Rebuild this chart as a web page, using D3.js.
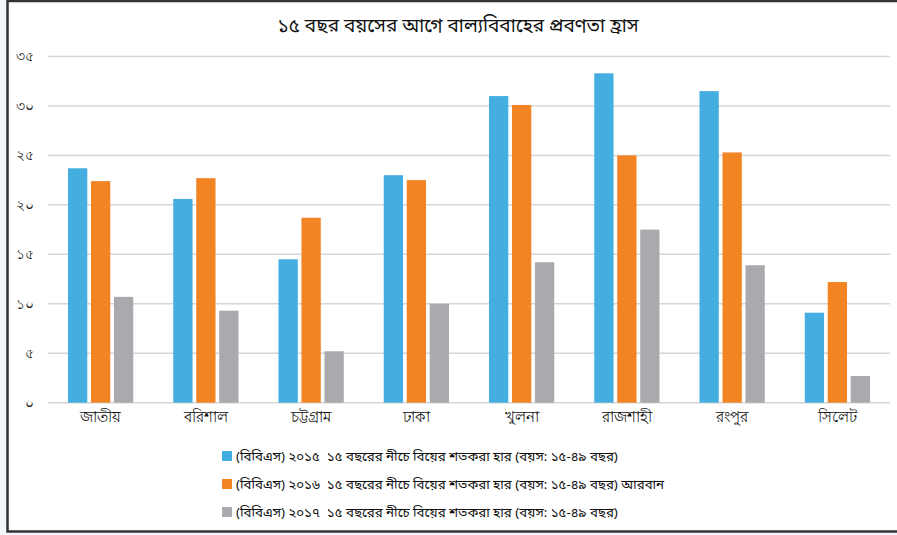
<!DOCTYPE html>
<html>
<head>
<meta charset="utf-8">
<script src="https://cdn.jsdelivr.net/npm/d3@7"></script>
<style>
  html, body { margin: 0; padding: 0; background: #f3f6fb; }
  svg { display: block; font-family: "Noto Sans", "Noto Sans Bengali", sans-serif; }
  text { white-space: pre; }
</style>
</head>
<body>
<svg id="chart" width="897" height="535"></svg>
<script>
// data
var regions = ["জাতীয়", "বরিশাল", "চট্টগ্রাম", "ঢাকা", "খুলনা", "রাজশাহী", "রংপুর", "সিলেট"];
var bbs2015 = [23.7, 20.6, 14.5, 23.0, 31.0, 33.3, 31.5, 9.1];
var bbs2016 = [22.4, 22.7, 18.7, 22.5, 30.1, 25.0, 25.3, 12.2];
var bbs2017 = [10.7, 9.3, 5.2, 10.0, 14.2, 17.5, 13.9, 2.7];
var seriesNames = [
  "(বিবিএস) ২০১৫  ১৫ বছরের নীচে বিয়ের শতকরা হার (বয়স: ১৫-৪৯ বছর)",
  "(বিবিএস) ২০১৬  ১৫ বছরের নীচে বিয়ের শতকরা হার (বয়স: ১৫-৪৯ বছর) আরবান",
  "(বিবিএস) ২০১৭  ১৫ বছরের নীচে বিয়ের শতকরা হার (বয়স: ১৫-৪৯ বছর)"
];
var yTicks = [0, 5, 10, 15, 20, 25, 30, 35];
var yTickLabels = ["০", "৫", "১০", "১৫", "২০", "২৫", "৩০", "৩৫"];
var title = "১৫ বছর বয়সের আগে বাল্যবিবাহের প্রবণতা হ্রাস";

var colors = ["#45aee1", "#f38424", "#a9aaad"];
var series = [bbs2015, bbs2016, bbs2017];

var svg = d3.select("#chart");

// white card with dark frame on top/left/bottom
svg.append("rect")
  .attr("x", 8).attr("y", 0).attr("width", 889).attr("height", 532)
  .attr("fill", "#fff");
svg.append("path")
  .attr("d", "M897,1 H7.5 V531.5 H897")
  .attr("fill", "none")
  .attr("stroke", "#333")
  .attr("stroke-width", 2.5);

var x0 = d3.scaleBand()
  .domain(regions)
  .range([48, 890])
  .paddingInner(0.38)
  .paddingOuter(0.19);

var x1 = d3.scaleBand()
  .domain([0, 1, 2])
  .range([0, x0.bandwidth()])
  .paddingInner(0.16);

var y = d3.scaleLinear()
  .domain([0, 35])
  .range([402.7, 56.5]);

// gridlines
svg.append("g")
  .selectAll("line")
  .data(yTicks)
  .enter().append("line")
    .attr("x1", 48).attr("x2", 890)
    .attr("y1", function(d) { return y(d); })
    .attr("y2", function(d) { return y(d); })
    .attr("stroke", "#d6d6d6")
    .attr("stroke-width", 1.5);

// y axis labels
var yAxis = d3.axisLeft(y)
  .tickValues(yTicks)
  .tickFormat(function(d, i) { return yTickLabels[i]; })
  .tickSize(0)
  .tickPadding(0);

svg.append("g")
  .attr("transform", "translate(34,0)")
  .call(yAxis)
  .call(function(g) { g.select(".domain").remove(); })
  .selectAll("text")
    .attr("font-size", 14)
    .attr("fill", "#222")
    .attr("font-family", "Noto Sans, sans-serif");

// bars
var groups = svg.append("g")
  .selectAll("g")
  .data(regions)
  .enter().append("g")
    .attr("transform", function(d) { return "translate(" + x0(d) + ",0)"; });

groups.selectAll("rect")
  .data(function(d, i) { return series.map(function(s, j) { return {k: j, v: s[i]}; }); })
  .enter().append("rect")
    .attr("x", function(d) { return x1(d.k); })
    .attr("width", x1.bandwidth())
    .attr("y", function(d) { return y(d.v); })
    .attr("height", function(d) { return y(0) - y(d.v); })
    .attr("fill", function(d) { return colors[d.k]; });

// x axis labels
var xAxis = d3.axisBottom(x0).tickSize(0).tickPadding(0);
svg.append("g")
  .attr("transform", "translate(0,412)")
  .call(xAxis)
  .call(function(g) { g.select(".domain").remove(); })
  .selectAll("text")
    .attr("font-size", 14.5)
    .attr("fill", "#111")
    .attr("font-family", "Noto Sans, sans-serif");

// title
svg.append("text")
  .attr("x", 458).attr("y", 32)
  .attr("text-anchor", "middle")
  .attr("font-size", 19)
  .attr("fill", "#111")
  .text(title);

// legend
var legend = svg.append("g")
  .selectAll("g")
  .data(seriesNames)
  .enter().append("g")
    .attr("transform", function(d, i) { return "translate(222," + (456 + i * 28) + ")"; });

legend.append("rect")
  .attr("x", 0).attr("y", -5)
  .attr("width", 10).attr("height", 10)
  .attr("fill", function(d, i) { return colors[i]; });

legend.append("text")
  .attr("x", 14).attr("y", 5)
  .attr("font-size", 13.3)
  .attr("fill", "#111")
  .text(function(d) { return d; });
</script>
</body>
</html>
